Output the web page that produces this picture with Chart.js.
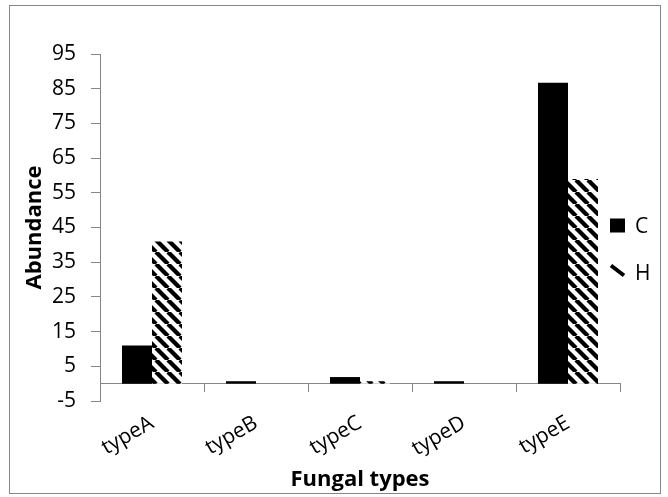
<!DOCTYPE html>
<html>
<head>
<meta charset="utf-8">
<script src="https://cdn.jsdelivr.net/npm/chart.js"></script>
<style>
  html, body { margin: 0; padding: 0; background: #fff; }
  canvas { display: block; }
</style>
</head>
<body>
<canvas id="chart" width="668" height="497"></canvas>
<script>
// data
const categories = ['typeA', 'typeB', 'typeC', 'typeD', 'typeE'];
const cValues = [11, 0.7, 1.9, 0.7, 86.7];
const hValues = [41, 0, 0.7, 0, 59];
const yTicks = { min: -5, max: 95, step: 10 };

const AXIS = '#868686';
const FONT = 'Open Sans';
const FS = 21;

// black "\" stripes on white for series H
function makeHatch() {
  const c = document.createElement('canvas');
  c.width = c.height = 12;
  const g = c.getContext('2d');
  g.fillStyle = '#fff';
  g.fillRect(0, 0, 12, 12);
  g.strokeStyle = '#000';
  g.lineWidth = 4.3;
  g.beginPath();
  for (const o of [-12, 0, 12]) {
    g.moveTo(o, 0);
    g.lineTo(o + 12, 12);
  }
  g.stroke();
  return g.createPattern(c, 'repeat');
}

// outer frame around the whole chart
const framePlugin = {
  id: 'frame',
  beforeDraw(chart) {
    const ctx = chart.ctx;
    ctx.save();
    ctx.strokeStyle = AXIS;
    ctx.lineWidth = 1;
    ctx.strokeRect(9.5, 5.5, 651, 488);
    ctx.restore();
  }
};

// Excel style legend sitting over the right edge of the plot
const sideLegend = {
  id: 'sideLegend',
  afterDraw(chart) {
    const ctx = chart.ctx;
    const x = chart.chartArea.right - 10;
    const mid = chart.height / 2;
    const rows = [mid - 23, mid + 24];
    ctx.save();
    ctx.font = FS + 'px "' + FONT + '"';
    ctx.textBaseline = 'middle';
    chart.data.datasets.forEach((ds, i) => {
      const y = rows[i];
      ctx.fillStyle = '#000';
      if (i === 0) {
        ctx.fillRect(x, y - 7, 15, 14);
      } else {
        ctx.strokeStyle = '#000';
        ctx.lineWidth = 4;
        ctx.beginPath();
        ctx.moveTo(x + 1, y - 7);
        ctx.lineTo(x + 14, y + 3);
        ctx.stroke();
      }
      ctx.fillText(ds.label, x + 25, y + 2);
    });
    ctx.restore();
  }
};

const ctx = document.getElementById('chart').getContext('2d');
new Chart(ctx, {
  type: 'bar',
  data: {
    labels: categories,
    datasets: [
      { label: 'C', data: cValues, backgroundColor: '#000', borderWidth: 0 },
      { label: 'H', data: hValues, backgroundColor: makeHatch(), borderWidth: 0 }
    ]
  },
  options: {
    responsive: false,
    animation: false,
    categoryPercentage: 0.577,
    barPercentage: 1,
    // the x axis sits on y = 0, so it takes no room of its own: reserve it here
    layout: { padding: { left: 14, right: 48, top: 54, bottom: 96 } },
    plugins: {
      legend: { display: false },
      tooltip: { enabled: false }
    },
    scales: {
      x: {
        position: { y: 0 },
        grid: { drawOnChartArea: false, offset: true, color: AXIS, tickLength: 8 },
        border: { color: AXIS },
        ticks: {
          color: '#000',
          font: { family: FONT, size: FS },
          minRotation: 30,
          maxRotation: 30,
          padding: 19
        },
        title: {
          display: true,
          text: 'Fungal types',
          color: '#000',
          font: { family: FONT, size: 22, weight: 'bold' },
          padding: { top: 0, bottom: -17 }
        },
        afterFit(scale) { scale.height = 92; }
      },
      y: {
        min: yTicks.min,
        max: yTicks.max,
        grid: { drawOnChartArea: false, color: AXIS, tickLength: 9 },
        border: { color: AXIS },
        ticks: {
          stepSize: yTicks.step,
          color: '#000',
          font: { family: FONT, size: FS },
          padding: 15
        },
        title: {
          display: true,
          text: 'Abundance',
          color: '#000',
          font: { family: FONT, size: 22, weight: 'bold' },
          padding: { top: 8, bottom: 0 }
        },
        afterFit(scale) { scale.width = 86; }
      }
    }
  },
  plugins: [framePlugin, sideLegend]
});
</script>
</body>
</html>
